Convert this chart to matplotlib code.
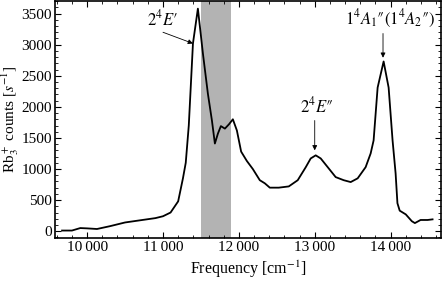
import matplotlib
matplotlib.use("Agg")
import matplotlib.pyplot as plt
from matplotlib.ticker import MultipleLocator, FuncFormatter

plt.rcParams['font.family'] = ['Liberation Serif', 'DejaVu Serif']
plt.rcParams['mathtext.fontset'] = 'stix'

# spectrum
freq = [9670, 9800, 9910, 10000, 10130, 10300, 10500, 10700, 10900, 11000,
        11100, 11200, 11263, 11300, 11340, 11395, 11460, 11526, 11592, 11645,
        11684, 11724, 11763, 11816, 11870, 11921, 11974, 12030, 12105, 12184,
        12276, 12342, 12408, 12526, 12658, 12776, 12882, 12947, 13013, 13079,
        13171, 13276, 13382, 13474, 13566, 13671, 13737, 13776, 13829, 13908,
        13974, 14026, 14066, 14090, 14120, 14200, 14280, 14320, 14395, 14487,
        14553]
counts = [10, 10, 50, 45, 35, 80, 140, 175, 210, 240,
          300, 480, 850, 1100, 1700, 3020, 3580, 2860, 2210, 1780,
          1410, 1570, 1690, 1650, 1720, 1800, 1620, 1280, 1130, 1000,
          820, 770, 700, 700, 720, 820, 1030, 1170, 1220, 1170,
          1030, 870, 820, 790, 850, 1030, 1250, 1460, 2310, 2730,
          2310, 1460, 930, 450, 330, 270, 160, 130, 180, 180,
          190]

band = (11500, 11900)

labels = ["$2^4E\u2032$", "$2^4E\u2033$", "$1^4A_1\u2033(1^4A_2\u2033)$"]
tips = [(11395, 3020), (13000, 1300), (13900, 2790)]
starts = [(11000, 3200), (13000, 1780), (13900, 3180)]
label_pos = [(10990, 3240), (13030, 1850), (13990, 3240)]

fig = plt.figure(figsize=(4.42, 2.81), dpi=100)
ax = fig.add_axes([0.125, 0.153, 0.872, 0.845])

ax.axvspan(band[0], band[1], color='#b3b3b3', lw=0, zorder=0)
ax.plot(freq, counts, color='black', lw=1.3, zorder=2)

for lab, tip, st, lp in zip(labels, tips, starts, label_pos):
    ax.annotate('', xy=tip, xytext=st,
                arrowprops=dict(arrowstyle='-|>', color='black', lw=0.6,
                                mutation_scale=7, shrinkA=0, shrinkB=0))
    ax.text(lp[0], lp[1], lab, ha='center', va='bottom', fontsize=12)

ax.set_xlim(9580, 14660)
ax.set_ylim(-110, 3710)
ax.xaxis.set_major_locator(MultipleLocator(1000))
ax.xaxis.set_minor_locator(MultipleLocator(200))
ax.yaxis.set_major_locator(MultipleLocator(500))
ax.yaxis.set_minor_locator(MultipleLocator(100))
ax.xaxis.set_major_formatter(FuncFormatter(lambda v, p: f"{int(v) // 1000}\u2009{int(v) % 1000:03d}"))
ax.tick_params(which='both', direction='in', top=True, right=True, labelsize=11)
ax.tick_params(which='major', length=4, width=0.8, pad=2.5)
ax.tick_params(which='minor', length=2, width=0.6)
for s in ax.spines.values():
    s.set_linewidth(1.2)

ax.set_xlabel("Frequency [cm$^{-1}$]", fontsize=11.5, labelpad=3)
ax.set_ylabel("Rb$_3^+$ counts [$s^{-1}$]", fontsize=11, labelpad=0)

fig.savefig("out.png", dpi=100)
